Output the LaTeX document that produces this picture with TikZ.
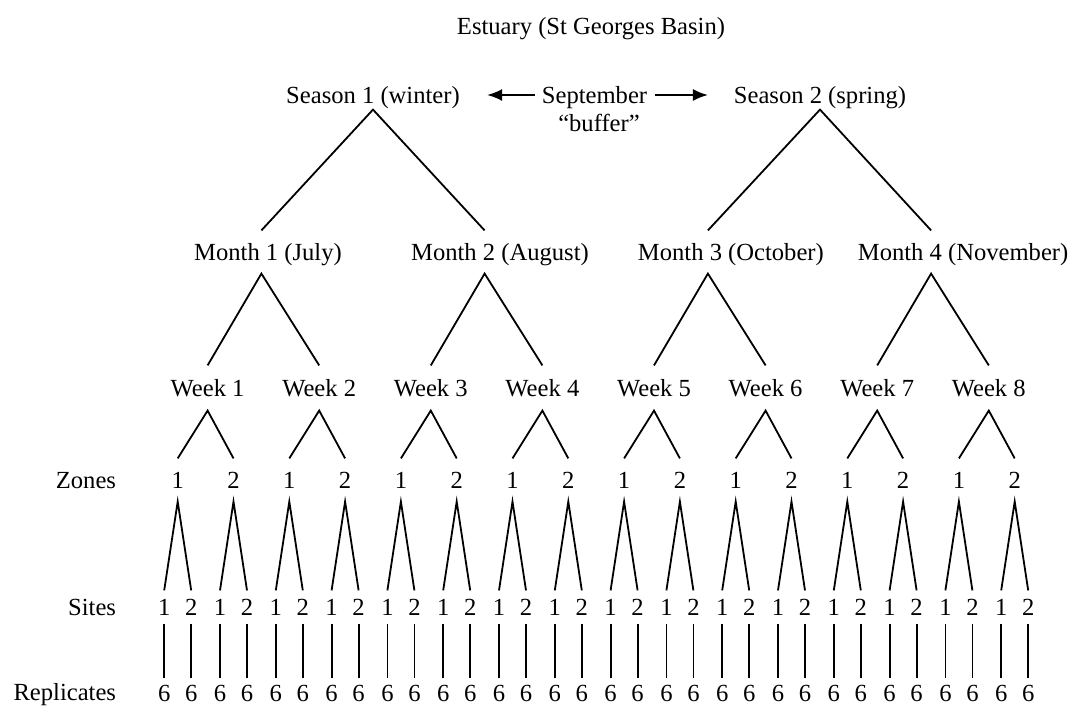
\documentclass[tikz,border=0pt]{standalone}
\usepackage{fontspec}
\setmainfont{Liberation Serif}
\usetikzlibrary{arrows.meta}
\tikzset{
    lvl/.style={inner xsep=0pt, inner ysep=#1, outer sep=0pt, text height=8.6pt, text depth=0pt},
    lvl/.default=6pt,
    branch/.style={line width=0.9pt},
    buffarrow/.style={line width=0.9pt, -{Latex[length=7.5pt,width=6pt]}}
}
\begin{document}
\begin{tikzpicture}[x=0.5pt, y=-0.5pt, font=\fontsize{12.3}{14}\selectfont]
    \useasboundingbox (0,0) rectangle (1072,707);
    \node[lvl] (estuary) at (591,26) {Estuary (St Georges Basin)};
    % seasons, with the September gap between them
    \node[lvl=3pt] (s1) at (373,95) {Season 1 (winter)};
    \node[lvl=3pt] (s2) at (820,95) {Season 2 (spring)};
    \node[lvl=0pt] (sept) at (594.5,95) {September};
    \node[lvl=0pt] (buffer) at (599,123) {“buffer”};
    \draw[buffarrow, shorten <=3.5pt, shorten >=13.7pt] (sept.west) -- (s1.east);
    \draw[buffarrow, shorten <=4pt, shorten >=13pt] (sept.east) -- (s2.west);
    % months (text sits a little right of its branch point)
    \foreach \m/\tx/\off/\month in {1/261.4/3.3/July, 2/484.6/7.7/August, 3/707.9/11.5/October, 4/931.1/16/November}
        \node[lvl=6.5pt] (m\m) at (\tx+2*\off,252) {Month \m\ (\month)};
    \draw[branch] ([xshift=-3.3pt]m1.north) -- (s1.south) -- ([xshift=-7.7pt]m2.north);
    \draw[branch] ([xshift=-11.5pt]m3.north) -- (s2.south) -- ([xshift=-16pt]m4.north);
    % weeks
    \foreach \w in {1,...,8}
        \node[lvl=7pt] (w\w) at ({207.6+111.6*(\w-1)},388) {Week \w};
    \foreach \m/\off in {1/3.3, 2/7.7, 3/11.5, 4/16} {
        \pgfmathtruncatemacro\wa{2*\m-1}
        \pgfmathtruncatemacro\wb{2*\m}
        \draw[branch] (w\wa.north) -- ([xshift=-\off pt]m\m.south) -- (w\wb.north);
    }
    % row labels
    \node[lvl, anchor=east] (zones) at (116,480) {Zones};
    \node[lvl, anchor=east] (sites) at (116,607) {Sites};
    \node[lvl, anchor=east] (replicates) at (116,692) {Replicates};
    % zones, sites and replicates
    \foreach \z in {1,...,16} {
        \pgfmathsetmacro\zx{177.7+55.8*(\z-1)}
        \pgfmathtruncatemacro\zk{2-mod(\z,2)}
        \node[lvl=6.5pt] (z\z) at (\zx,480) {\zk};
        \node[lvl=4pt] (site\z-1) at (\zx-13.5,607) {1};
        \node[lvl=4pt] (site\z-2) at (\zx+13.5,607) {2};
        \node[lvl=3pt] (rep\z-1) at (\zx-13.5,693) {6};
        \node[lvl=3pt] (rep\z-2) at (\zx+13.5,693) {6};
        \draw[branch] (site\z-1.north) -- (z\z.south) -- (site\z-2.north);
        \draw[branch] (site\z-1.south) -- (rep\z-1.north);
        \draw[branch] (site\z-2.south) -- (rep\z-2.north);
    }
    \foreach \w in {1,...,8} {
        \pgfmathtruncatemacro\za{2*\w-1}
        \pgfmathtruncatemacro\zb{2*\w}
        \draw[branch] (z\za.north) -- (w\w.south) -- (z\zb.north);
    }
\end{tikzpicture}
\end{document}
